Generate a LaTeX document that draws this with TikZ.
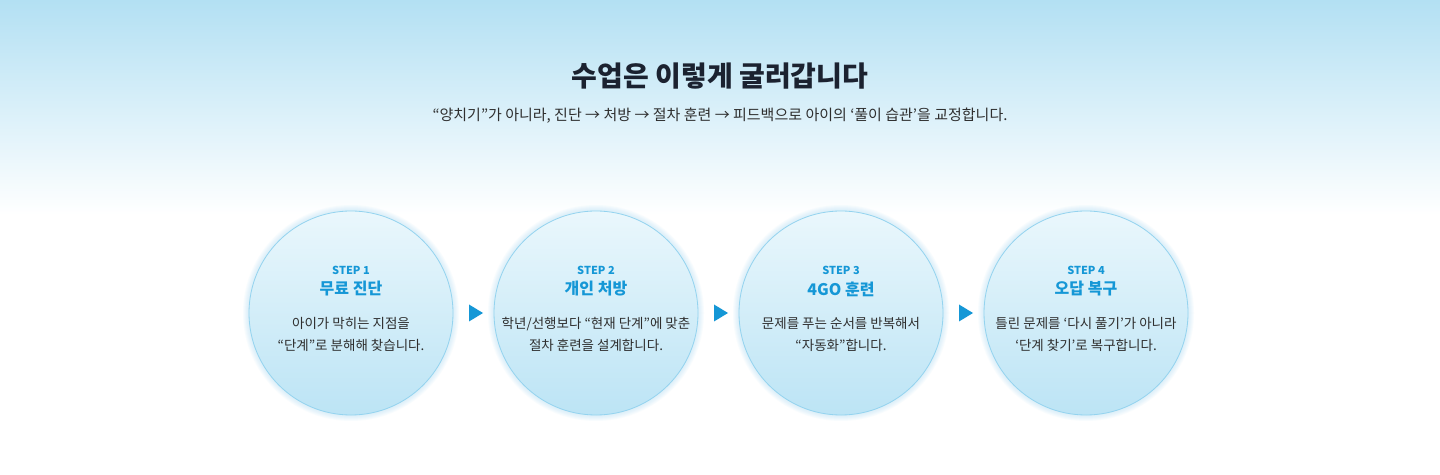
\documentclass[tikz,border=0pt]{standalone}
\usepackage{fontspec}
\setmainfont{Noto Sans CJK KR}
\usetikzlibrary{positioning,calc}
\definecolor{skyTop}{HTML}{B3E0F3}
\definecolor{stepBlue}{HTML}{1597D6}
\definecolor{ringBlue}{HTML}{94D3EF}
\definecolor{discTop}{HTML}{EAF7FC}
\definecolor{discBot}{HTML}{BCE4F5}
\definecolor{inkNavy}{HTML}{1B2230}
\definecolor{inkGray}{HTML}{2E2E2E}

\begin{document}
\begin{tikzpicture}[
  x=1pt, y=1pt,
  disc/.style={circle, minimum size=204pt, inner sep=0pt, draw=ringBlue,
               line width=0.8pt, top color=discTop, bottom color=discBot},
  glow/.style={fill=ringBlue, opacity=0.06},
  steptag/.style={font=\fontsize{11}{13}\selectfont\bfseries, text=stepBlue},
  steptitle/.style={font=\fontsize{16}{19}\selectfont\bfseries, text=stepBlue},
  stepdesc/.style={font=\fontsize{13.5}{22}\selectfont, text=inkGray, align=center},
  pointer/.style={fill=stepBlue}
]
  \shade[top color=skyTop, bottom color=white] (0,259) rectangle (1440,474);
  \fill[white] (0,0) rectangle (1440,259);
  \useasboundingbox (0,0) rectangle (1440,474);

  \node[font=\fontsize{28}{32}\selectfont\bfseries, text=inkNavy] (title) at (720,398) {수업은 이렇게 굴러갑니다};
  \node[font=\fontsize{15}{18}\selectfont, text=inkGray, below=12pt of title] (sub)
    {“양치기”가 아니라, 진단 → 처방 → 절차 훈련 → 피드백으로 아이의 ‘풀이 습관’을 교정합니다.};

  \foreach \i/\x in {1/351, 2/596, 3/841, 4/1086} {
    \coordinate (c\i) at (\x,161);
    \foreach \k in {1,...,7} \fill[glow] (c\i) circle (101+\k);
  }

  \node[disc] (s1) at (c1) {};
  \node[disc] (s2) at (c2) {};
  \node[disc] (s3) at (c3) {};
  \node[disc] (s4) at (c4) {};

  \node[steptag] at ($(s1.center)+(0,43)$) {STEP 1};
  \node[steptitle] at ($(s1.center)+(0,24)$) {무료 진단};
  \node[stepdesc] at ($(s1.center)+(0,-21)$) {아이가 막히는 지점을\\“단계”로 분해해 찾습니다.};

  \node[steptag] at ($(s2.center)+(0,43)$) {STEP 2};
  \node[steptitle] at ($(s2.center)+(0,24)$) {개인 처방};
  \node[stepdesc] at ($(s2.center)+(0,-21)$) {학년/선행보다 “현재 단계”에 맞춘\\절차 훈련을 설계합니다.};

  \node[steptag] at ($(s3.center)+(0,43)$) {STEP 3};
  \node[steptitle] at ($(s3.center)+(0,24)$) {4GO 훈련};
  \node[stepdesc] at ($(s3.center)+(0,-21)$) {문제를 푸는 순서를 반복해서\\“자동화”합니다.};

  \node[steptag] at ($(s4.center)+(0,43)$) {STEP 4};
  \node[steptitle] at ($(s4.center)+(0,24)$) {오답 복구};
  \node[stepdesc] at ($(s4.center)+(0,-21)$) {틀린 문제를 ‘다시 풀기’가 아니라\\‘단계 찾기’로 복구합니다.};

  \foreach \a/\b in {s1/s2, s2/s3, s3/s4} {
    \coordinate (p) at ($(\a)!0.5!(\b)+(2.5,0)$);
    \fill[pointer] ($(p)+(-7,8.5)$) -- ($(p)+(7,0)$) -- ($(p)+(-7,-8.5)$) -- cycle;
  }
\end{tikzpicture}
\end{document}
